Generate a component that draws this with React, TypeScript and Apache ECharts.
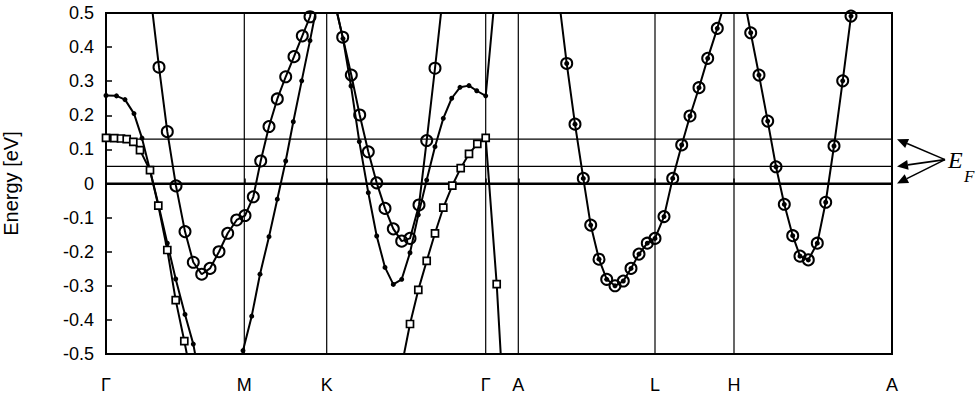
import React, { useEffect, useRef } from 'react';
import * as echarts from 'echarts';

// Symmetry points along the k-path (k-distance, arbitrary units)
const kPoints = [0, 138.3, 220.7, 379.7, 412.3, 549, 628, 786];
const kLabels = ['Γ', 'M', 'K', 'Γ', 'A', 'L', 'H', 'A'];

// Energy axis
const yMin = -0.5;
const yMax = 0.5;
const yStep = 0.1;

// Fermi-level reference lines (eV)
const fermiLevels = [0.13, 0.05, 0];
const efTailLevel = 0.07;

// Bands: [k, E(eV)]
const dotGM = [[0, 0.258], [10.5, 0.257], [19, 0.246], [28, 0.205], [36, 0.133], [44, 0.039], [52.5, -0.063], [61.3, -0.175], [69.7, -0.28], [79, -0.384], [87.3, -0.471], [91, -0.53]];
const squareGM = [[0, 0.134], [8.3, 0.133], [15, 0.132], [20.7, 0.13], [27.3, 0.122], [34, 0.098], [44, 0.039], [52.3, -0.065], [61.3, -0.195], [69.7, -0.342], [78.3, -0.462], [83.5, -0.54]];
const circleGM = [[45, 0.54], [53, 0.341], [61.3, 0.152], [70, -0.007], [79, -0.141], [87.3, -0.231], [95.7, -0.266], [104, -0.249], [113, -0.2], [121.7, -0.146], [130.7, -0.107], [139, -0.094], [147.3, -0.039], [154.7, 0.066], [163, 0.167], [171.3, 0.248], [179.7, 0.313], [188, 0.372], [196.3, 0.433], [204, 0.489], [207.5, 0.54]];
const dotMK = [[135, -0.53], [137, -0.49], [145.7, -0.389], [154, -0.266], [163, -0.156], [171.3, -0.046], [179.7, 0.066], [187.3, 0.181], [195.7, 0.301], [204, 0.419], [211.5, 0.53]];
const circleKG = [[228, 0.54], [236.7, 0.429], [245.3, 0.318], [253.7, 0.201], [262.3, 0.093], [270.7, 0.002], [279, -0.073], [287.3, -0.133], [295.7, -0.169], [304, -0.161], [313, -0.063], [320.7, 0.126], [329, 0.338], [336.5, 0.54]];
const dotKG = [[228, 0.54], [237, 0.425], [245, 0.286], [253.3, 0.123], [262.3, -0.027], [270.7, -0.154], [279, -0.246], [287.3, -0.296], [295.7, -0.281], [304, -0.203], [312.3, -0.092], [320.7, 0.01], [329, 0.108], [337.3, 0.191], [345.7, 0.25], [354, 0.282], [363, 0.287], [370.7, 0.272], [379.7, 0.257], [388.6, 0.54]];
const squareKG = [[296, -0.53], [304, -0.412], [312.3, -0.312], [320.7, -0.227], [329, -0.146], [337.3, -0.071], [346.3, -0.006], [354.7, 0.045], [363, 0.087], [371.3, 0.116], [379.7, 0.134], [390.7, -0.295], [395.5, -0.54]];
const circleAL = [[452.5, 0.55], [460.7, 0.352], [469, 0.174], [477.3, 0.015], [484.7, -0.122], [493, -0.222], [500.7, -0.281], [509, -0.3], [517.3, -0.286], [525, -0.249], [533, -0.207], [541.3, -0.175], [549, -0.161], [558, -0.097], [566.7, 0.015], [575.7, 0.113], [584, 0.198], [593, 0.281], [601.7, 0.367], [611.3, 0.455], [619.5, 0.54]];
const circleHA = [[638, 0.545], [644.7, 0.442], [653, 0.318], [661.7, 0.183], [670, 0.049], [678.3, -0.061], [686.7, -0.153], [694, -0.213], [702.3, -0.224], [711.3, -0.175], [719.7, -0.055], [728, 0.11], [736.7, 0.301], [745, 0.491], [746.5, 0.53]];

const FONT = '"Liberation Sans", Arial, sans-serif';
const SERIF = '"Liberation Serif", "Times New Roman", serif';

type Kind = 'dot' | 'square' | 'circle';

const markerStyle: Record<Kind, any> = {
  dot: { symbol: 'circle', symbolSize: 5, itemStyle: { color: '#000', borderWidth: 0 } },
  square: { symbol: 'rect', symbolSize: 7, itemStyle: { color: '#fff', borderColor: '#000', borderWidth: 1.7 } },
  circle: { symbol: 'circle', symbolSize: 11, itemStyle: { color: 'rgba(0,0,0,0)', borderColor: '#000', borderWidth: 2 } },
};

function band(name: string, pts: number[][], kind: Kind, showLine = true) {
  const m = markerStyle[kind];
  return {
    name,
    type: 'line',
    data: pts.map(([x, y]) =>
      y > yMax || y < yMin ? { value: [x, y], symbol: 'none' } : { value: [x, y] }
    ),
    symbol: m.symbol,
    symbolSize: m.symbolSize,
    showSymbol: true,
    showAllSymbol: true,
    itemStyle: m.itemStyle,
    lineStyle: { color: '#000', width: showLine ? 2 : 0, opacity: showLine ? 1 : 0 },
    clip: true,
    silent: true,
    z: 5,
  };
}

function refLine(pts: number[][], width: number) {
  return {
    type: 'line',
    data: pts,
    symbol: 'none',
    lineStyle: { color: '#000', width },
    silent: true,
    clip: true,
    z: 3,
  };
}

export default function App() {
  const ref = useRef<HTMLDivElement>(null);

  useEffect(() => {
    if (!ref.current) return;
    const chart = echarts.init(ref.current, undefined, { renderer: 'svg' });
    const kMax = kPoints[kPoints.length - 1];

    const series: any[] = [];
    // vertical symmetry lines
    kPoints.slice(1, -1).forEach((k) => series.push(refLine([[k, yMin], [k, yMax]], 1.2)));
    // Fermi level lines
    fermiLevels.forEach((e) => series.push(refLine([[0, e], [kMax, e]], e === 0 ? 2.2 : 1.2)));
    // bands
    series.push(band('dotGM', dotGM, 'dot'));
    series.push(band('squareGM', squareGM, 'square'));
    series.push(band('circleGM', circleGM, 'circle'));
    series.push(band('dotMK', dotMK, 'dot'));
    series.push(band('circleKG', circleKG, 'circle'));
    series.push(band('dotKG', dotKG, 'dot'));
    series.push(band('squareKG', squareKG, 'square'));
    series.push(band('circleAL', circleAL, 'circle'));
    series.push(band('dotAL', circleAL, 'dot', false));
    series.push(band('circleHA', circleHA, 'circle'));
    series.push(band('dotHA', circleHA, 'dot', false));

    chart.setOption({
      animation: false,
      backgroundColor: '#fff',
      grid: {
        left: 106,
        right: 84,
        top: 13,
        bottom: 42,
        outerBoundsMode: 'none',
        containLabel: false,
        show: true,
        borderColor: '#000',
        borderWidth: 2,
        backgroundColor: 'rgba(0,0,0,0)',
      },
      xAxis: {
        type: 'value',
        min: 0,
        max: kMax,
        axisLine: { show: true, lineStyle: { color: '#000', width: 2 } },
        axisTick: {
          show: true,
          inside: true,
          length: 5,
          customValues: kPoints,
          lineStyle: { color: '#000', width: 1.5 },
        },
        axisLabel: {
          customValues: kPoints,
          color: '#000',
          fontSize: 18,
          fontFamily: FONT,
          margin: 22,
          formatter: (v: number) => {
            const i = kPoints.findIndex((p) => Math.abs(p - v) < 1e-6);
            return i >= 0 ? kLabels[i] : '';
          },
        },
        splitLine: { show: false },
      },
      yAxis: {
        type: 'value',
        min: yMin,
        max: yMax,
        interval: yStep,
        axisLine: { show: true, lineStyle: { color: '#000', width: 2 } },
        axisTick: { show: true, inside: true, length: 6, lineStyle: { color: '#000', width: 1.5 } },
        axisLabel: {
          color: '#000',
          fontSize: 18,
          fontFamily: FONT,
          margin: 12,
          formatter: (v: number) => (Math.abs(v) < 1e-9 ? '0' : v.toFixed(1)),
        },
        splitLine: { show: false },
        name: 'Energy [eV]',
        nameLocation: 'middle',
        nameRotate: 90,
        nameGap: 85,
        nameTextStyle: { color: '#000', fontSize: 20, fontFamily: FONT },
      },
      series,
    });

    // E_F annotation, anchored to the axis scale
    const right = chart.convertToPixel({ gridIndex: 0 }, [kMax, 0])[0];
    const tailY = chart.convertToPixel({ gridIndex: 0 }, [kMax, efTailLevel])[1];
    const tail = [right + 53, tailY];
    const elements: any[] = [];
    fermiLevels.forEach((e) => {
      const y = chart.convertToPixel({ gridIndex: 0 }, [kMax, e])[1];
      const tip = [right + 5, y];
      const dx = tip[0] - tail[0];
      const dy = tip[1] - tail[1];
      const len = Math.hypot(dx, dy);
      const ux = dx / len;
      const uy = dy / len;
      const hl = 11;
      const hw = 5;
      const bx = tip[0] - ux * hl;
      const by = tip[1] - uy * hl;
      elements.push({
        type: 'line',
        shape: { x1: tail[0], y1: tail[1], x2: bx, y2: by },
        style: { stroke: '#000', lineWidth: 1.6 },
        silent: true,
      });
      elements.push({
        type: 'polygon',
        shape: {
          points: [
            [tip[0], tip[1]],
            [bx - uy * hw, by + ux * hw],
            [bx + uy * hw, by - ux * hw],
          ],
        },
        style: { fill: '#000' },
        silent: true,
      });
    });
    elements.push({
      type: 'text',
      x: right + 56,
      y: tailY,
      style: {
        text: 'E',
        font: `italic 24px ${SERIF}`,
        fill: '#000',
        verticalAlign: 'middle',
        align: 'left',
      },
      silent: true,
    });
    elements.push({
      type: 'text',
      x: right + 72,
      y: tailY + 17,
      style: {
        text: 'F',
        font: `italic 17px ${SERIF}`,
        fill: '#000',
        verticalAlign: 'middle',
        align: 'left',
      },
      silent: true,
    });
    chart.setOption({ graphic: { elements } });

    return () => chart.dispose();
  }, []);

  return (
    <div
      ref={ref}
      style={{ position: 'fixed', left: 0, top: 0, width: 976, height: 396, background: '#fff' }}
    />
  );
}
